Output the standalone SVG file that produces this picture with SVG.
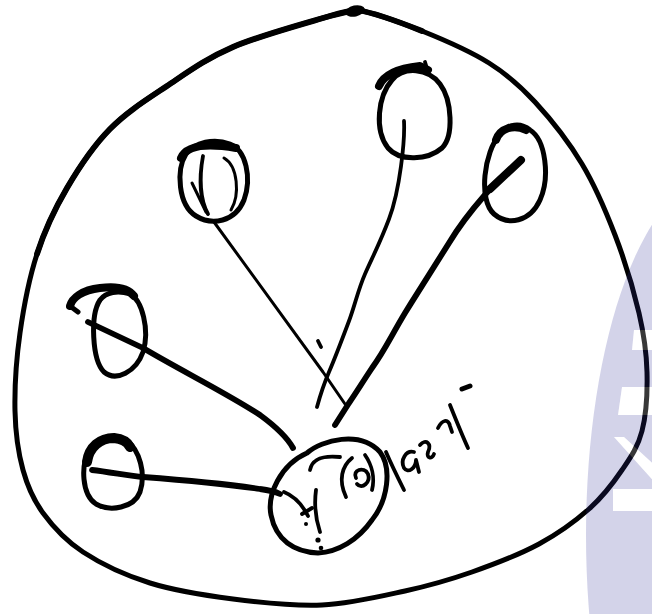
<svg xmlns="http://www.w3.org/2000/svg" width="652" height="614" viewBox="0 0 652 614">
<style>
.s{fill:none;stroke:#000;stroke-linecap:round;stroke-linejoin:round}
.w2{stroke-width:3}.w3{stroke-width:3.8}.w4{stroke-width:5}.w5{stroke-width:5.8}.w7{stroke-width:8}.w9{stroke-width:10}
</style>
<rect width="652" height="614" fill="#fff"/>
<g id="boundary">
<path class="s w4" d="M357,10 C372.3,12.5 400,22.2 422,31 C444,39.8 470.2,51.2 489,63 C507.8,74.8 519.5,85.2 535,102 C550.5,118.8 568.7,141.8 582,164 C595.3,186.2 605.5,210.2 615,235 C624.5,259.8 633.7,290.2 639,313 C644.3,335.8 646.5,352.3 647,372 C647.5,391.7 646.2,414.7 642,431 C637.8,447.3 630.8,457 622,470 C613.2,483 602.8,496.7 589,509 C575.2,521.3 558.5,533.5 539,544 C519.5,554.5 494.3,564.2 472,572 C449.7,579.8 430,585.5 405,591 C380,596.5 350.7,603.7 322,605 C293.3,606.3 261.7,602.7 233,599 C204.3,595.3 175,590.8 150,583 C125,575.2 100.8,563.7 83,552 C65.2,540.3 53,526.7 43,513 C33,499.3 27.7,487 23,470 C18.3,453 15.5,433.8 15,411 C14.5,388.2 16.3,359.2 20,333 C23.7,306.8 29.2,278.2 37,254 C44.8,229.8 54.8,208.8 67,188 C79.2,167.2 93.3,146 110,129 C126.7,112 146.5,99.7 167,86 C187.5,72.3 205.8,58.7 233,47 C260.2,35.3 309.3,22.2 330,16 C339,13.5 348,11 357,10 Z"/>
<path class="s w5" d="M37,254 C44.8,229.8 54.8,208.8 67,188 C79.2,167.2 93.3,146 110,129 C126.7,112 146.5,99.7 167,86 C187.5,72.3 205.8,58.7 233,47 C260.2,35.3 309.3,22.2 330,16 C339,13.5 348,11 357,10 C372.3,12.5 400,22.2 422,31"/>
<ellipse cx="355" cy="11" rx="10" ry="5.5" transform="rotate(-12 355 11)" fill="#000"/>
</g>
<g id="connectors">
<path class="s w2" d="M214,222 L323,372 L345,404"/>
<path class="s w3" d="M404,121 C405,140 400,190 389,219 C380,243 372,258 365,274 C358,290 355,305 349,321 C340,345 335,358 329,372 C323,386 320,396 317,407"/>
<path class="s w7" d="M521,160 L490,189"/>
<path class="s w5" d="M490,189 L484,196 C470,212 458,228 449,243 C430,273 418,292 405,313 C390,338 385,350 372,368 C362,383 356,393 349,403 L335,425"/>
<path class="s w5" d="M88,322 L143,348 C180,370 230,395 260,415 C275,426 287,437 293,448"/>
<path class="s w5" d="M92,470 C110,472 130,476 143,477 C170,479 220,483 260,489 C268,490 274,491 280,494"/>
<path class="s w3" d="M318,341 L321,347"/>
</g>
<g id="node-a">
<path class="s w4" d="M186,154 C176,170 178,205 196,216 C212,226 235,222 244,200 C252,178 246,150 230,144 C214,138 195,142 186,154 Z"/>
<path class="s w7" d="M181,158 C186,146 205,143 236,148"/>
<path class="s w3" d="M203,156 C199,178 200,200 208,214"/>
<path class="s w2" d="M224,158 C238,166 240,195 231,210"/>
<path class="s w2" d="M192,183 L206,212"/>
</g>
<g id="node-b">
<path class="s w4" d="M392,80 C378,96 374,130 388,148 C400,162 428,160 442,148 C454,136 452,100 440,84 C428,68 404,66 392,80 Z"/>
<path class="s w7" d="M379,86 C384,74 400,68 420,66 L428,70"/>
<path class="s w3" d="M425,62 L428,72"/>
</g>
<g id="node-c">
<path class="s w4" d="M500,134 C484,152 478,200 494,214 C508,226 530,222 540,200 C550,178 546,140 530,130 C520,122 508,124 500,134 Z"/>
<path class="s w7" d="M496,140 C500,128 514,124 526,130"/>
</g>
<g id="node-d">
<path class="s w4" d="M100,300 C90,315 92,360 104,372 C116,382 136,372 143,352 C150,330 142,300 130,294 C118,290 106,292 100,300 Z"/>
<path class="s w7" d="M70,306 C72,298 82,290 100,288 C115,286 128,288 134,296"/>
<path class="s w4" d="M70,306 L78,312"/>
</g>
<g id="node-e">
<path class="s w4" d="M90,450 C80,465 82,495 96,504 C110,512 134,508 140,492 C146,474 140,450 126,440 C112,432 98,438 90,450 Z"/>
<path class="s w9" d="M87,462 C89,447 100,438 114,438 C124,439 128,443 130,447"/>
</g>
<g id="node-center">
<path class="s w4" d="M307,453 C322,440 360,430 380,452 C392,468 388,500 372,520 C358,540 338,552 318,553 C294,552 276,540 271,515 C267,495 280,465 307,453 Z"/>
<path class="s w3" d="M310,470 C312,460 320,455 340,457"/>
<path class="s w3" d="M284,492 C294,496 302,504 308,516"/>
<path class="s w3" d="M316,490 C314,505 316,520 320,532"/>
<path class="s w3" d="M302,514 L312,508"/>
<circle cx="318" cy="540" r="2.6" fill="#000"/>
<circle cx="321" cy="548" r="2.3" fill="#000"/>
<circle cx="306" cy="524" r="2" fill="#000"/>
<path class="s w3" d="M352,458 C342,466 338,480 346,497"/>
<path class="s w3" d="M356,478 C352,470 364,466 368,474 C371,482 362,490 357,484"/>
<path class="s w3" d="M365,455 C372,465 375,478 372,490"/>
<path class="s w3" d="M386,452 C392,466 398,478 404,490"/>
<path class="s w3" d="M414,452 C406,450 400,460 404,468 C408,474 416,468 416,460 L419,472"/>
<path class="s w3" d="M420,445 C426,438 432,444 428,452 C426,458 432,460 434,454"/>
<path class="s w3" d="M438,428 C442,420 448,418 450,426 L452,432"/>
<path class="s w3" d="M450,405 C456,420 462,435 468,448"/>
<path class="s w4" d="M462,389 L470,386"/>
</g>
<g id="watermark">
<path fill="#303098" fill-opacity="0.21" fill-rule="evenodd" d="M586,535 A134,360 0 1,0 854,535 A134,360 0 1,0 586,535 Z M634,330 L660,330 L660,350 L632,350 Z M622,387 L660,387 L660,415 L618,415 Z M614,437 L624,437 L660,470 L660,488 Z M613,489 L660,489 L660,511 L613,511 Z"/>
<path fill="#fff" fill-opacity="0.22" d="M634,330 L660,330 L660,350 L632,350 Z M622,387 L660,387 L660,415 L618,415 Z M614,437 L624,437 L660,470 L660,488 Z M613,489 L660,489 L660,511 L613,511 Z"/>
</g>
</svg>
